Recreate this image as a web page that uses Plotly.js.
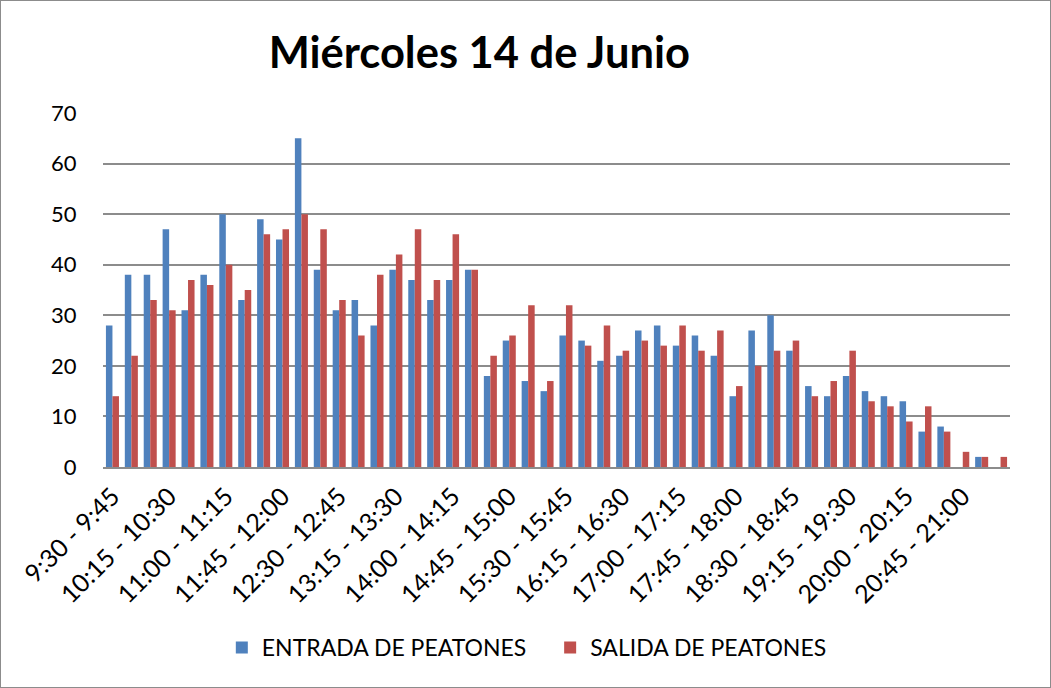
<!DOCTYPE html>
<html>
<head>
<meta charset="utf-8">
<script src="https://cdn.plot.ly/plotly-3.0.1.min.js"></script>
<style>
html,body{margin:0;padding:0;background:#fff;}
#chart{width:1051px;height:688px;box-sizing:border-box;border:1px solid #8c8c8c;}
</style>
</head>
<body>
<div id="chart"></div>
<script>
const categories = [
  "9:30 - 9:45","9:45 - 10:00","10:00 - 10:15","10:15 - 10:30","10:30 - 10:45","10:45 - 11:00",
  "11:00 - 11:15","11:15 - 11:30","11:30 - 11:45","11:45 - 12:00","12:00 - 12:15","12:15 - 12:30",
  "12:30 - 12:45","12:45 - 13:00","13:00 - 13:15","13:15 - 13:30","13:30 - 13:45","13:45 - 14:00",
  "14:00 - 14:15","14:15 - 14:30","14:30 - 14:45","14:45 - 15:00","15:00 - 15:15","15:15 - 15:30",
  "15:30 - 15:45","15:45 - 16:00","16:00 - 16:15","16:15 - 16:30","16:30 - 16:45","16:45 - 17:00",
  "17:00 - 17:15","17:15 - 17:30","17:30 - 17:45","17:45 - 18:00","18:00 - 18:15","18:15 - 18:30",
  "18:30 - 18:45","18:45 - 19:00","19:00 - 19:15","19:15 - 19:30","19:30 - 19:45","19:45 - 20:00",
  "20:00 - 20:15","20:15 - 20:30","20:30 - 20:45","20:45 - 21:00","21:00 - 21:15","21:15 - 21:30"
];
const entrada = [28,38,38,47,31,38,50,33,49,45,65,39,31,33,28,39,37,33,37,39,18,25,17,15,26,25,21,22,27,28,24,26,22,14,27,30,23,16,14,18,15,14,13,7,8,0,2,0];
const salida  = [14,22,33,31,37,36,40,35,46,47,50,47,33,26,38,42,47,37,46,39,22,26,32,17,32,24,28,23,25,24,28,23,27,16,20,23,25,14,17,23,13,12,9,12,7,3,2,2];
const tickLabels = ["9:30 - 9:45","10:15 - 10:30","11:00 - 11:15","11:45 - 12:00","12:30 - 12:45","13:15 - 13:30","14:00 - 14:15","14:45 - 15:00","15:30 - 15:45","16:15 - 16:30","17:00 - 17:15","17:45 - 18:00","18:30 - 18:45","19:15 - 19:30","20:00 - 20:15","20:45 - 21:00"];
const seriesNames = ["ENTRADA DE PEATONES","SALIDA DE PEATONES"];

const font = "Lato, 'Open Sans', sans-serif";
const data = [
  {type:'bar', x:categories, y:entrada, name:seriesNames[0], marker:{color:'#4F81BD'}, legend:'legend'},
  {type:'bar', x:categories, y:salida, name:seriesNames[1], marker:{color:'#C0504D'}, legend:'legend2'}
];
const legendFont = {family:font, size:23, color:'#000'};
const layout = {
  width:1049, height:686,
  margin:{l:102, r:40, t:112, b:220, pad:0},
  paper_bgcolor:'#fff', plot_bgcolor:'#fff',
  font:{family:font, size:22, color:'#000'},
  title:{text:'<b>Miércoles 14 de Junio</b>', font:{family:font, size:43.5, color:'#000'}, x:0.456, xref:'container', y:0.925, yref:'container', yanchor:'middle', xanchor:'center'},
  barmode:'group', bargap:0.31, bargroupgap:0,
  showlegend:true,
  legend:{orientation:'h', x:0.131, xanchor:'left', y:-0.51, yanchor:'middle', font:legendFont, itemwidth:30},
  legend2:{orientation:'h', x:0.493, xanchor:'left', y:-0.51, yanchor:'middle', font:legendFont, itemwidth:30},
  xaxis:{type:'category', tickmode:'array', tickvals:tickLabels, ticktext:tickLabels, tickangle:-45,
         showline:true, linecolor:'#8c8c8c', linewidth:2, showgrid:false, ticks:'outside', ticklen:3, tickcolor:'rgba(0,0,0,0)',
         tickfont:{family:font, size:25, color:'#000'}, fixedrange:true},
  yaxis:{range:[0,70], dtick:10, tick0:0, showgrid:true, gridcolor:'#8c8c8c', gridwidth:2, zeroline:false, showline:false,
         ticks:'outside', ticklen:21, tickcolor:'rgba(0,0,0,0)', tickfont:{family:font, size:22, color:'#000'}, fixedrange:true}
};
Plotly.newPlot('chart', data, layout, {displayModeBar:false, staticPlot:true});
</script>
</body>
</html>
